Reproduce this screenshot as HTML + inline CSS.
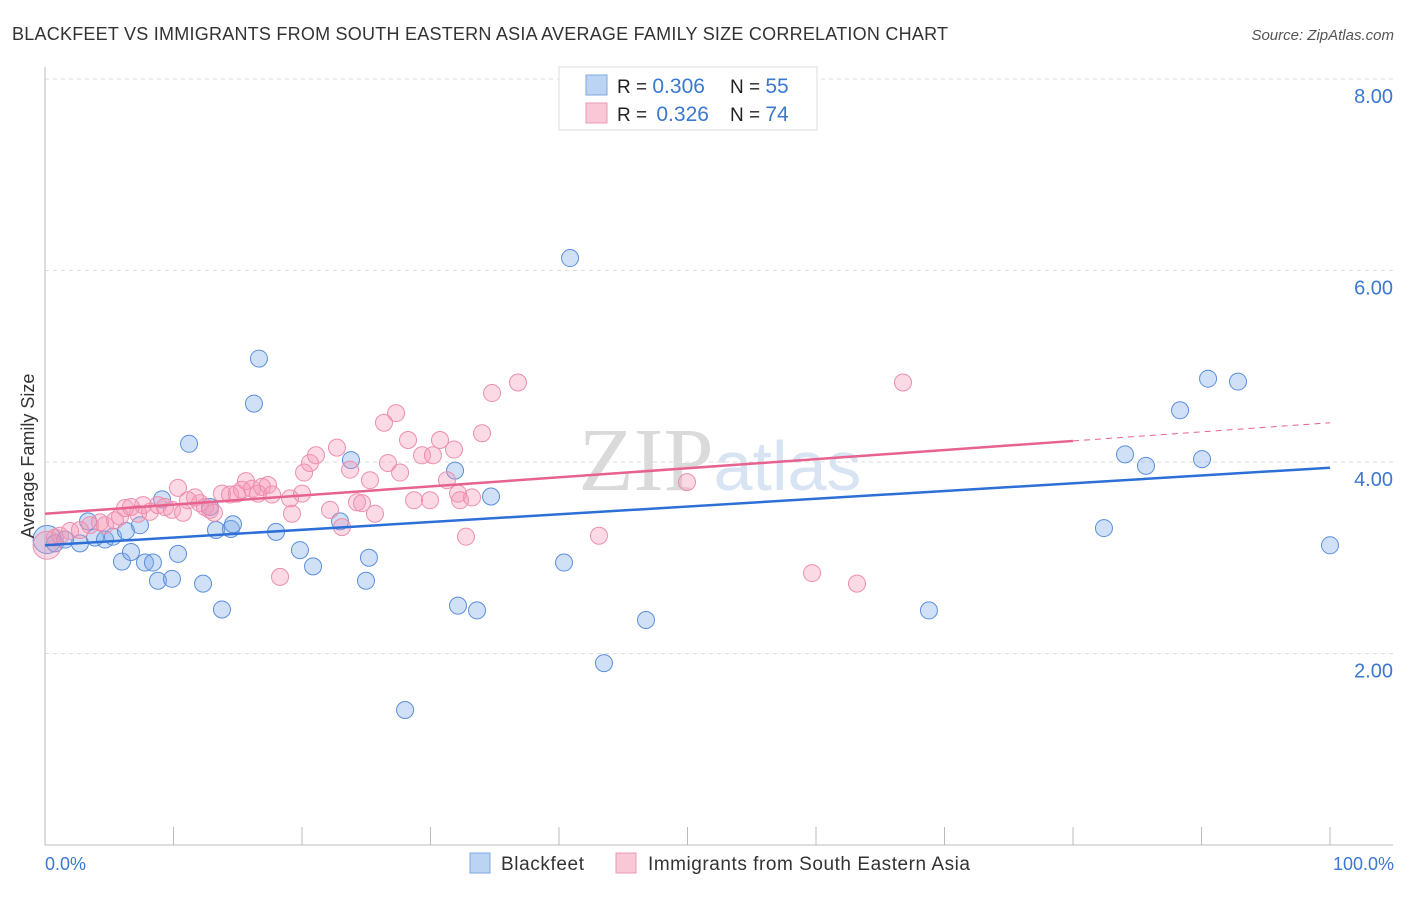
<!DOCTYPE html>
<html><head><meta charset="utf-8"><style>
body{margin:0;background:#fff;font-family:"Liberation Sans",sans-serif;}
svg text{font-family:"Liberation Sans",sans-serif;}
</style></head><body>
<svg id="chart" width="1406" height="892" viewBox="0 0 1406 892">
<text x="12" y="40" font-size="18" fill="#333" textLength="936">BLACKFEET VS IMMIGRANTS FROM SOUTH EASTERN ASIA AVERAGE FAMILY SIZE CORRELATION CHART</text>
<text x="1394" y="40" font-size="15" fill="#555" font-style="italic" text-anchor="end">Source: ZipAtlas.com</text>
<text x="720" y="490" font-size="90" fill="#e6e6e6" text-anchor="middle" font-family="Liberation Serif"><tspan font-family="Liberation Serif" fill="#dadada">ZIP</tspan><tspan font-family="Liberation Sans" fill="#d8e4f3" font-size="70">atlas</tspan></text>
<g id="grid"></g>
<g id="axes"></g>
<g id="marks"></g>
<text transform="translate(34,456) rotate(-90)" font-size="18" fill="#333" text-anchor="middle">Average Family Size</text>
<text x="45" y="870" font-size="18" fill="#3b78d0">0.0%</text>
<text x="1394" y="870" font-size="18" fill="#3b78d0" text-anchor="end">100.0%</text>
<g>
<rect x="559" y="67" width="258" height="63" fill="#fff" stroke="#ddd"/>
<rect x="586" y="75" width="21" height="20" fill="#bcd4f3" stroke="#7ea7e0"/>
<rect x="586" y="103" width="21" height="20" fill="#f9c8d6" stroke="#eb98b3"/>
<text x="617" y="93" font-size="19" fill="#222">R = <tspan fill="#3b78d0" font-size="21">0.306</tspan></text>
<text x="730" y="93" font-size="19" fill="#222">N = <tspan fill="#3b78d0" font-size="21">55</tspan></text>
<text x="617" y="121" font-size="19" fill="#222">R = <tspan fill="#3b78d0" font-size="21" dx="4">0.326</tspan></text>
<text x="730" y="121" font-size="19" fill="#222">N = <tspan fill="#3b78d0" font-size="21">74</tspan></text>
</g>
<g>
<rect x="470" y="853" width="20" height="20" fill="#bcd4f3" stroke="#7ea7e0"/>
<text x="501" y="870" font-size="19" fill="#333" textLength="83">Blackfeet</text>
<rect x="616" y="853" width="20" height="20" fill="#f9c8d6" stroke="#eb98b3"/>
<text x="648" y="870" font-size="19" fill="#333" textLength="322">Immigrants from South Eastern Asia</text>
</g>
</svg>
<script>
const yTicks=[2,4,6,8];
const yTickLabels=["2.00","4.00","6.00","8.00"];
const xTicks=[0,10,20,30,40,50,60,70,80,90,100];
const bluePx=[[47,540],[55,543],[65,540],[80,543],[88,521],[95,538],[105,540],[113,537],[122,562],[126,531],[131,552],[140,525],[145,563],[153,563],[158,581],[162,499],[172,579],[178,554],[189,444],[203,584],[210,507],[216,530],[222,609],[231,529],[233,524],[254,404],[259,359],[276,532],[300,550],[313,566],[340,521],[351,460],[366,581],[369,558],[405,710],[455,471],[458,606],[477,610],[491,496],[564,563],[570,258],[604,663],[646,620],[929,610],[1104,528],[1125,454],[1146,466],[1180,410],[1202,459],[1208,379],[1238,382],[1330,545]];
const pinkPx=[[47,545],[55,538],[60,536],[70,531],[80,530],[90,525],[100,522],[105,525],[115,520],[120,517],[125,508],[131,507],[138,514],[143,505],[150,512],[158,505],[165,507],[172,510],[178,488],[183,513],[188,500],[195,497],[200,503],[205,507],[210,510],[214,513],[222,494],[230,495],[237,494],[242,490],[246,481],[252,489],[258,494],[262,487],[268,485],[272,495],[290,498],[292,514],[280,577],[302,494],[304,473],[310,463],[316,455],[330,510],[337,448],[342,527],[350,470],[357,502],[362,503],[370,480],[375,514],[384,423],[388,463],[396,413],[400,473],[408,440],[414,500],[422,455],[430,500],[433,455],[440,440],[447,480],[454,450],[458,494],[460,500],[466,537],[472,497],[482,433],[492,393],[518,383],[599,536],[687,482],[812,573],[857,584],[903,383]];
const blueX=bluePx.map(p=>+((p[0]-45)/12.85).toFixed(2));
const blueY=bluePx.map(p=>+((845-p[1])/95.75).toFixed(2));
const pinkX=pinkPx.map(p=>+((p[0]-45)/12.85).toFixed(2));
const pinkY=pinkPx.map(p=>+((845-p[1])/95.75).toFixed(2));
const blueTrend=[3.13,3.94];
const pinkTrend=[3.46,4.41];
const xs=v=>45+v*12.85, ys=v=>845-v*95.75;
const NS="http://www.w3.org/2000/svg";
function mk(tag,attrs,parent){const e=document.createElementNS(NS,tag);for(const k in attrs)e.setAttribute(k,attrs[k]);document.getElementById(parent).appendChild(e);return e;}
yTicks.forEach((t,i)=>{
 const l=mk('line',{x1:45,x2:1393,y1:ys(t),y2:ys(t),stroke:'#ddd','stroke-dasharray':'4,4'},'grid');
 
 
 const tx=mk('text',{x:1393,y:ys(t)+24,'font-size':20,fill:'#3b78d0','text-anchor':'end'},'grid');
 tx.textContent=yTickLabels[i];
 
 
});
const ya=mk('line',{x1:45,x2:45,y1:67,y2:845,stroke:'#bbb'},'axes');


const xa=mk('line',{x1:45,x2:1393,y1:845,y2:845,stroke:'#bbb'},'axes');


xTicks.forEach(t=>{
 const l=mk('line',{x1:xs(t),x2:xs(t),y1:827,y2:845,stroke:'#bbb'},'axes');
 
 
});
blueX.forEach((x,i)=>{
 const c=mk('circle',{cx:xs(x),cy:ys(blueY[i]),r:i==0?14:8.5,fill:'rgba(120,165,230,0.35)',stroke:'#5b8fdc','stroke-width':1},'marks');
 
 
});
pinkX.forEach((x,i)=>{
 const c=mk('circle',{cx:xs(x),cy:ys(pinkY[i]),r:i==0?14:8.5,fill:'rgba(245,150,180,0.35)',stroke:'#ec8fae','stroke-width':1},'marks');
 
 
});
const bl=mk('line',{x1:xs(0),y1:ys(blueTrend[0]),x2:xs(100),y2:ys(blueTrend[1]),stroke:'#2c6fd6','stroke-width':2.5},'marks');


const pe=pinkTrend[0]+(pinkTrend[1]-pinkTrend[0])*0.8;
const pl=mk('line',{x1:xs(0),y1:ys(pinkTrend[0]),x2:xs(80),y2:ys(pe),stroke:'#e8628f','stroke-width':2.5},'marks');


const pd=mk('line',{x1:xs(80),y1:ys(pe),x2:xs(100),y2:ys(pinkTrend[1]),stroke:'#e8628f','stroke-width':1,'stroke-dasharray':'6,5'},'marks');


</script>
</body></html>
